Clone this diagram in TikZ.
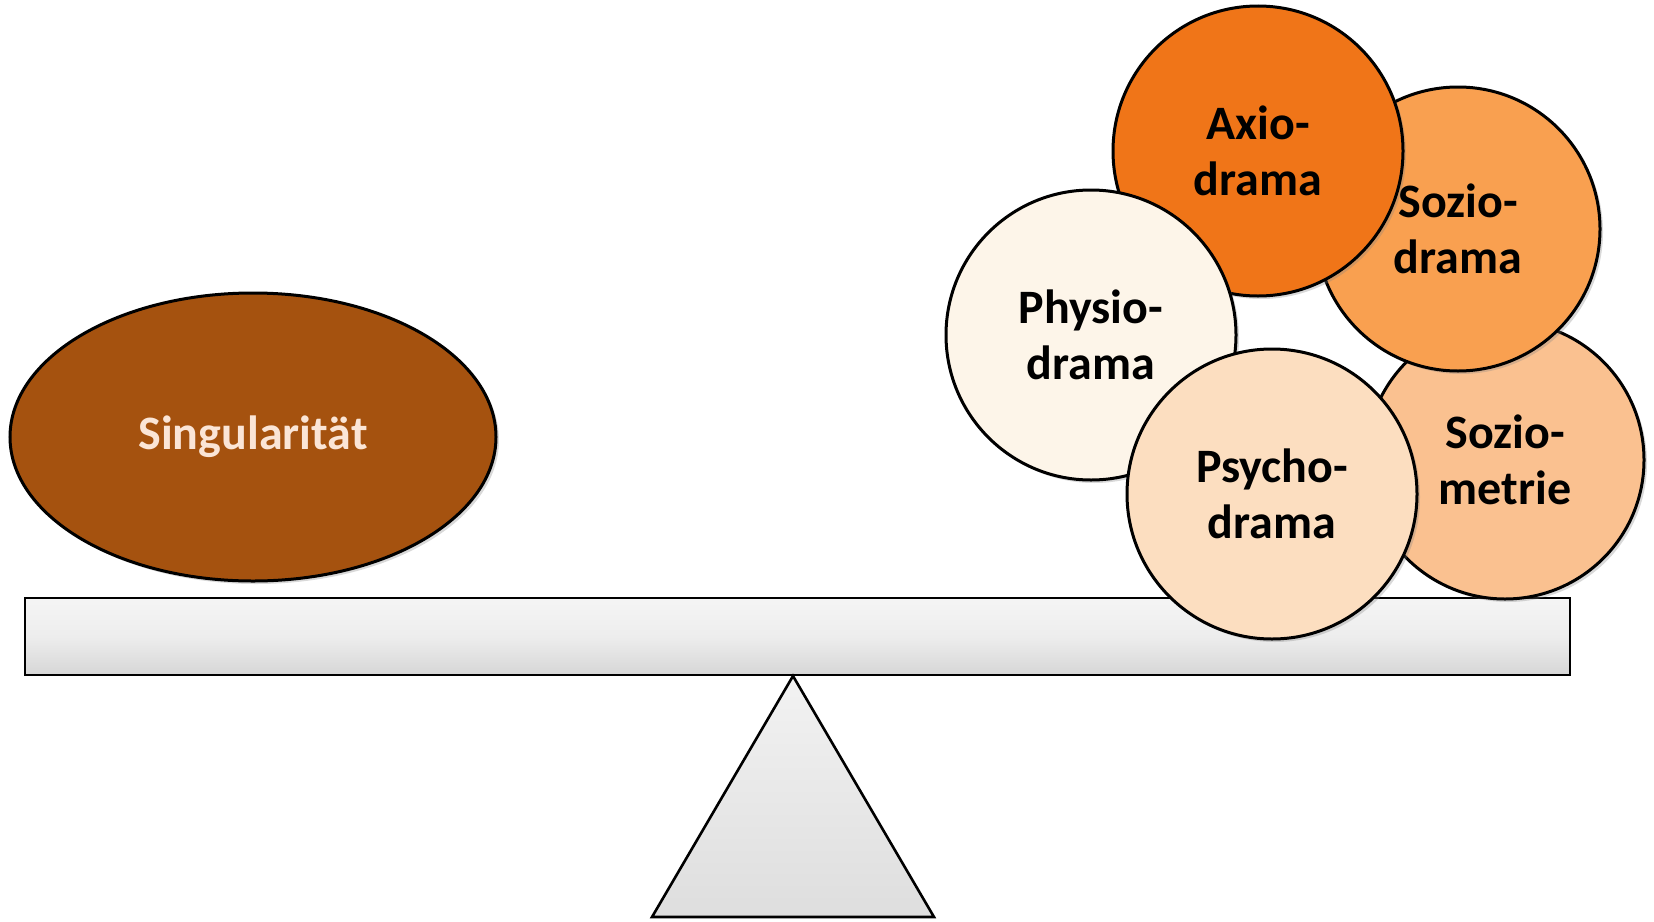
\documentclass[tikz,border=0pt]{standalone}
\usepackage{fontspec}
\setmainfont{Carlito}
\usetikzlibrary{shapes.geometric,shadows}
\definecolor{singfill}{HTML}{A5520F}
\definecolor{singtext}{HTML}{FBE5D6}
\definecolor{axiofill}{HTML}{F07518}
\definecolor{sdramafill}{HTML}{F9A050}
\definecolor{smetriefill}{HTML}{FAC190}
\definecolor{psychofill}{HTML}{FCDEC0}
\definecolor{physiofill}{HTML}{FDF5E9}
\tikzset{
  ball/.style={circle,draw=black,line width=1.5pt,minimum size=#1,inner sep=0pt,align=center,
    font=\fontsize{24}{28}\selectfont\bfseries,
    drop shadow={opacity=0.3,shadow xshift=1.5pt,shadow yshift=-1.5pt}},
  board/.style={draw=black,line width=1.3pt}
}

\begin{document}
\begin{tikzpicture}[x=0.5pt,y=-0.5pt]
    \useasboundingbox (0,0) rectangle (1654,921);

    \draw [board, top color=gray!8, bottom color=gray!32, middle color=gray!14] (25,598) rectangle (1570,675);
    \draw [board, top color=gray!10, bottom color=gray!26] (793,676) -- (934,917) -- (652,917) -- cycle;

    \node [ellipse, draw=black, line width=1.5pt, fill=singfill, minimum width=243pt, minimum height=144pt,
      text=singtext, font=\fontsize{24}{28}\selectfont\bfseries,
      drop shadow={opacity=0.3,shadow xshift=1.5pt,shadow yshift=-1.5pt}] (sing) at (253,437) {Singularität};

    \node [ball=139pt, fill=smetriefill] (smetrie) at (1505,460) {Sozio-\\metrie};
    \node [ball=142pt, fill=sdramafill] (sdrama) at (1458,229) {Sozio-\\drama};
    \node [ball=145pt, fill=axiofill] (axio) at (1258,151) {Axio-\\drama};
    \node [ball=145pt, fill=physiofill] (physio) at (1091,335) {Physio-\\drama};
    \node [ball=145pt, fill=psychofill] (psycho) at (1272,494) {Psycho-\\drama};
  \end{tikzpicture}
\end{document}
